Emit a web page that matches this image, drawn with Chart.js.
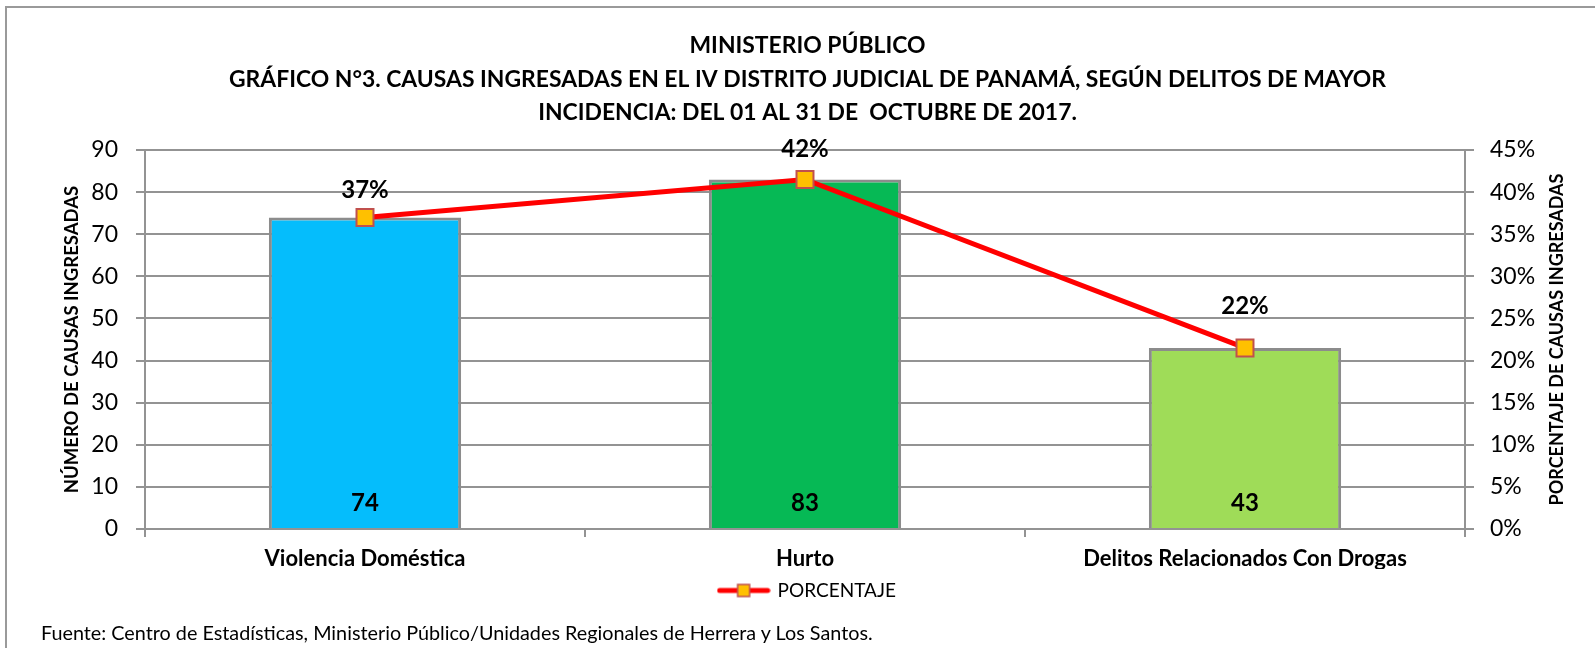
<!DOCTYPE html>
<html>
<head>
<meta charset="utf-8">
<script src="https://cdn.jsdelivr.net/npm/chart.js@4/dist/chart.umd.min.js"></script>
<style>
  html, body { margin: 0; padding: 0; background: #fff; overflow: hidden; }
  #wrap { position: relative; width: 1595px; height: 648px; }
  #chart { position: absolute; left: 0; top: 0; }
  #frame { position: absolute; left: 5px; top: 6px; width: 1700px; height: 800px;
           border-left: 2px solid #9a9a9a; border-top: 2px solid #9a9a9a; pointer-events: none; }
  #fuente { position: absolute; left: 41px; top: 620px; font: 19.8px Lato, sans-serif; line-height: 24px; color: #000; white-space: nowrap; }
</style>
</head>
<body>
<div id="wrap">
  <canvas id="chart" width="1595" height="648"></canvas>
  <div id="frame"></div>
  <div id="fuente">Fuente: Centro de Estadísticas, Ministerio Público/Unidades Regionales de Herrera y Los Santos.</div>
</div>
<script>
// datos del gráfico
const categorias = ["Violencia Doméstica", "Hurto", "Delitos Relacionados Con Drogas"];
const causas = [74, 83, 43];
const porcentaje = [37, 41.5, 21.5];
const coloresBarras = ["#05BDFC", "#06B955", "#9FDC58"];
const ticksCausas = [0, 10, 20, 30, 40, 50, 60, 70, 80, 90];
const ticksPorcentaje = [0, 5, 10, 15, 20, 25, 30, 35, 40, 45];

const tituloLineas = [
    "MINISTERIO PÚBLICO",
    "GRÁFICO N°3. CAUSAS INGRESADAS EN EL IV DISTRITO JUDICIAL DE PANAMÁ, SEGÚN DELITOS DE MAYOR",
    "INCIDENCIA: DEL 01 AL 31 DE  OCTUBRE DE 2017."
];

const FONT = "Lato, 'Open Sans', sans-serif";
const GRIS = "#939393";
// separación de cada etiqueta % sobre su marcador (en el original no es igual)
const desfaseEtiquetaPct = [27, 30, 42];

Chart.defaults.font.family = FONT;
Chart.defaults.color = "#000";

// icono de la leyenda: línea roja con marcador cuadrado
function iconoLeyenda() {
    const c = document.createElement("canvas");
    c.width = 54;
    c.height = 16;
    const g = c.getContext("2d");
    g.strokeStyle = "#FF0000";
    g.lineWidth = 5;
    g.lineCap = "round";
    g.beginPath();
    g.moveTo(3, 8);
    g.lineTo(51, 8);
    g.stroke();
    g.fillStyle = "#FFC000";
    g.fillRect(21, 2, 12, 12);
    g.strokeStyle = "#C0504D";
    g.lineWidth = 1.5;
    g.strokeRect(21, 2, 12, 12);
    return c;
}

// etiquetas de valores (barras y porcentajes) + título del eje derecho
const etiquetas = {
    id: "etiquetas",
    afterDatasetsDraw(chart) {
        const ctx = chart.ctx;
        const yScale = chart.scales.y;
        ctx.save();
        ctx.fillStyle = "#000";
        ctx.textAlign = "center";
        ctx.textBaseline = "middle";
        ctx.font = "bold 24px " + FONT;

        chart.getDatasetMeta(1).data.forEach((bar, i) => {
            ctx.fillText(String(causas[i]), bar.x, yScale.getPixelForValue(0) - 26);
        });
        chart.getDatasetMeta(0).data.forEach((pt, i) => {
            ctx.fillText(Math.round(porcentaje[i]) + "%", pt.x, pt.y - desfaseEtiquetaPct[i]);
        });

        // título eje derecho (se lee de abajo hacia arriba como en el original)
        const area = chart.chartArea;
        ctx.font = "bold 18px " + FONT;
        ctx.translate(1557, (area.top + area.bottom) / 2);
        ctx.rotate(-Math.PI / 2);
        ctx.fillText("PORCENTAJE DE CAUSAS INGRESADAS", 0, 0);
        ctx.restore();
    }
};

const chart = new Chart(document.getElementById("chart"), {
    type: "bar",
    data: {
        labels: categorias,
        datasets: [
            {
                type: "line",
                label: "PORCENTAJE",
                data: porcentaje,
                yAxisID: "y1",
                order: 0,
                borderColor: "#FF0000",
                borderWidth: 5,
                pointStyle: "rect",
                pointRadius: 12,
                pointBackgroundColor: "#FFC000",
                pointBorderColor: "#C0504D",
                pointBorderWidth: 2,
                tension: 0,
            },
            {
                type: "bar",
                label: "CAUSAS",
                data: causas,
                yAxisID: "y",
                order: 1,
                backgroundColor: coloresBarras,
                borderColor: "#8C8C8C",
                borderWidth: 3,
                categoryPercentage: 1,
                barPercentage: 0.437,
            }
        ]
    },
    options: {
        responsive: false,
        animation: false,
        layout: {
            padding: {left: 20, right: 0, top: 0, bottom: 38}
        },
        plugins: {
            title: {
                display: true,
                text: tituloLineas,
                font: {size: 22.9, weight: "bold", lineHeight: 1.45},
                color: "#000",
                padding: {top: 29.5, bottom: 20.9},
            },
            legend: {
                position: "bottom",
                labels: {
                    filter: (item) => item.datasetIndex === 0,
                    usePointStyle: true,
                    pointStyle: iconoLeyenda(),
                    pointStyleWidth: 49,
                    font: {size: 19},
                    color: "#000",
                    padding: 12,
                }
            },
            tooltip: {enabled: false},
        },
        scales: {
            x: {
                afterFit: (scale) => { scale.height = 40; },
                grid: {display: true, drawOnChartArea: false, color: GRIS, lineWidth: 2, tickLength: 8, offset: true},
                border: {display: true, color: GRIS, width: 2},
                ticks: {font: {size: 22, weight: "bold"}, padding: 9, color: "#000"},
            },
            y: {
                position: "left",
                min: 0,
                max: 90,
                afterBuildTicks: (scale) => { scale.ticks = ticksCausas.map(v => ({value: v})); },
                afterFit: (scale) => { scale.width = 125; },
                grid: {color: GRIS, lineWidth: 2, tickLength: 9},
                border: {display: true, color: GRIS, width: 2},
                ticks: {font: {size: 23}, padding: 18, color: "#000"},
                title: {
                    display: true,
                    text: "NÚMERO DE CAUSAS INGRESADAS",
                    font: {size: 18.5, weight: "bold"},
                    color: "#000",
                    padding: {top: 41, bottom: 0},
                }
            },
            y1: {
                position: "right",
                min: 0,
                max: 45,
                afterBuildTicks: (scale) => { scale.ticks = ticksPorcentaje.map(v => ({value: v})); },
                afterFit: (scale) => { scale.width = 130; },
                grid: {drawOnChartArea: false, color: GRIS, lineWidth: 2, tickLength: 9},
                border: {display: true, color: GRIS, width: 2},
                ticks: {font: {size: 23}, padding: 16, color: "#000", callback: (v) => v + "%"},
            }
        }
    },
    plugins: [etiquetas]
});
</script>
</body>
</html>
